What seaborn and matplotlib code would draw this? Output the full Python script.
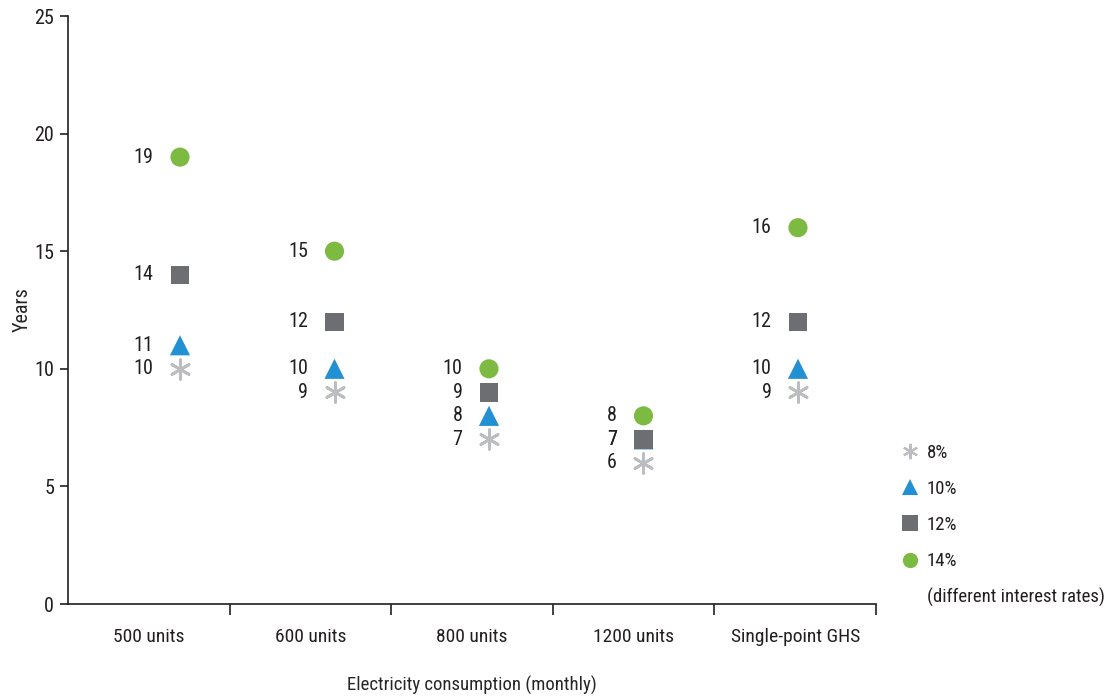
import matplotlib
matplotlib.use("Agg")
import matplotlib.pyplot as plt
from matplotlib.lines import Line2D
import seaborn as sns
import pandas as pd

categories = ["500 units", "600 units", "800 units", "1200 units", "Single-point GHS"]
rates = ["8%", "10%", "12%", "14%"]
years_8 = [10, 9, 7, 6, 9]
years_10 = [11, 10, 8, 7, 10]
years_12 = [14, 12, 9, 7, 12]
years_14 = [19, 15, 10, 8, 16]
y_ticks = [0, 5, 10, 15, 20, 25]

series = {"8%": years_8, "10%": years_10, "12%": years_12, "14%": years_14}
rows = []
for rate in rates:
    for i, cat in enumerate(categories):
        rows.append({"pos": i, "category": cat, "rate": rate, "years": series[rate][i]})
df = pd.DataFrame(rows)

sns.set_style("white")
plt.rcParams["font.family"] = ["Roboto Condensed", "Liberation Sans Narrow", "DejaVu Sans"]
plt.rcParams["text.color"] = "#231f20"
plt.rcParams["xtick.color"] = "#231f20"
plt.rcParams["ytick.color"] = "#231f20"

FS = 14.5
palette = {"8%": "#bcbdc0", "10%": "#2291d3", "12%": "#6d6e71", "14%": "#7dba42"}
markers = {"8%": (6, 2, 0), "10%": "^", "12%": "s", "14%": "o"}
sizes = {"8%": 200, "10%": 210, "12%": 175, "14%": 190}

fig = plt.figure(figsize=(11.13, 6.98), dpi=100)
ax = fig.add_axes([68 / 1113, 94 / 698, 808 / 1113, 588 / 698])

for rate in rates:
    sub = df[df["rate"] == rate]
    sns.scatterplot(data=sub, x="pos", y="years", ax=ax, color=palette[rate],
                    marker=markers[rate], s=sizes[rate],
                    linewidth=2 if rate == "8%" else 0,
                    edgecolor=palette[rate] if rate == "8%" else "none",
                    legend=False, zorder=3)
    for _, r in sub.iterrows():
        ax.annotate(f"{r['years']}", (r["pos"], r["years"]), xytext=(-19, 0),
                    textcoords="offset points", ha="right", va="center", fontsize=FS)

ax.set_xlim(-0.725, 4.505)
ax.set_ylim(0, 25)
ax.set_yticks(y_ticks)
ax.set_yticklabels([str(t) for t in y_ticks], fontsize=FS)
ax.tick_params(axis="y", length=6, width=1.2, pad=4, left=True)
ax.set_xticks([])
ax.set_xlabel("")
ax.set_ylabel("Years", fontsize=FS, labelpad=2)
for side in ["top", "right"]:
    ax.spines[side].set_visible(False)
for side in ["left", "bottom"]:
    ax.spines[side].set_color("#231f20")
    ax.spines[side].set_linewidth(1.2)

# category axis: boundary ticks and centered labels
cax = ax.twiny()
cax.set_xlim(0, 5)
cax.xaxis.set_ticks_position("bottom")
cax.xaxis.set_label_position("bottom")
for side in ["top", "right", "left", "bottom"]:
    cax.spines[side].set_visible(False)
cax.set_xticks([1, 2, 3, 4, 5])
cax.set_xticklabels([])
cax.tick_params(axis="x", which="major", length=8, width=1.2, direction="out", colors="#231f20")
cax.set_xticks([i + 0.5 for i in range(len(categories))], minor=True)
cax.set_xticklabels(categories, minor=True, fontsize=14)
cax.tick_params(axis="x", which="minor", length=0, pad=17)
cax.set_xlabel("Electricity consumption (monthly)", fontsize=13.5, labelpad=22)

handles = [Line2D([], [], linestyle="none", marker=markers[r], color=palette[r],
                  markeredgecolor=palette[r] if r == "8%" else "none",
                  markeredgewidth=1.5 if r == "8%" else 0,
                  markersize=11) for r in rates]
handles.append(Line2D([], [], linestyle="none"))
labels = rates + ["(different interest rates)"]
fig.legend(handles, labels, loc="upper left", bbox_to_anchor=(891 / 1113, 1 - 436 / 698),
           frameon=False, fontsize=13.5, handletextpad=0.3, labelspacing=0.97,
           handlelength=1.2, borderaxespad=0)

fig.savefig("out.png", dpi=100)
